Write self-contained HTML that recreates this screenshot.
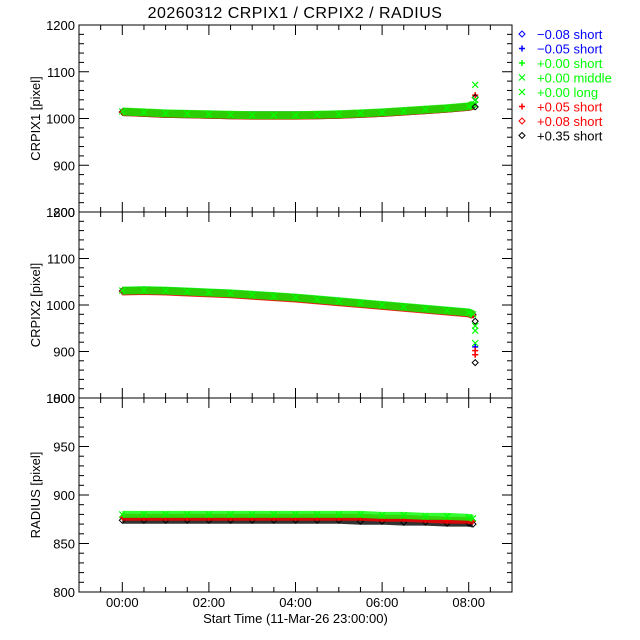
<!DOCTYPE html>
<html><head><meta charset="utf-8"><style>
body{margin:0;background:#fff;}
svg{display:block;font-family:"Liberation Sans",sans-serif;}
</style></head><body>
<svg id="c" width="640" height="640" xmlns="http://www.w3.org/2000/svg">
<text x="295" y="18" font-size="16" text-anchor="middle" letter-spacing="0.5">20260312 CRPIX1 / CRPIX2 / RADIUS</text>
<g id="plots"></g>
<g id="legend"></g>
</svg>
<script>
const times=[0,0.5,1,1.5,2,2.5,3,3.5,4,4.5,5,5.5,6,6.5,7,7.5,8,8.1];
const xTicks=[0,2,4,6,8];
const xTickLabels=["00:00","02:00","04:00","06:00","08:00"];
const p1Green=[1015,1013,1011,1010,1009,1008,1007,1007,1007,1008,1009,1011,1013,1016,1019,1022,1026,1030];
const p1Red=[1014,1012,1010,1009,1008,1007,1006,1006,1006,1007,1008,1010,1012,1015,1018,1021,1025,1028];
const p1Black=[1014,1012,1010,1009,1008,1007,1007,1007,1007,1007,1008,1010,1012,1015,1018,1021,1025,1027];
const p1EndVals=[1072,1050,1045,1040,1030,1025];
const p1EndColors=["#0f0","#f00","#000","#0f0","#0f0","#000"];
const p2Green=[1031,1032,1031,1029,1027,1025,1022,1019,1016,1012,1008,1004,1000,996,992,988,984,980];
const p2Red=[1029,1030,1029,1027,1025,1023,1020,1017,1014,1010,1006,1002,998,994,990,986,982,978];
const p2Black=[1030,1031,1030,1028,1026,1024,1021,1018,1015,1011,1007,1003,999,995,991,987,983,979];
const p2EndVals=[965,955,945,918,910,902,893,876];
const p2EndColors=["#000","#0f0","#0f0","#0f0","#00f","#f00","#f00","#000"];
const p3Green=[880,880,880,880,880,880,880,880,880,880,880,880,879,879,878,878,877,876];
const p3Red=[877,877,877,877,877,877,877,877,877,877,877,877,876,876,875,874,874,873];
const p3Black=[874,874,874,874,874,874,874,874,874,874,874,873,873,872,872,871,871,870];
const panels=[
 {top:25,bot:212,min:800,max:1200,ticks:[800,900,1000,1100,1200],title:"CRPIX1 [pixel]",g:p1Green,r:p1Red,k:p1Black,ev:p1EndVals,ec:p1EndColors,w:8},
 {top:212,bot:398,min:800,max:1200,ticks:[800,900,1000,1100,1200],title:"CRPIX2 [pixel]",g:p2Green,r:p2Red,k:p2Black,ev:p2EndVals,ec:p2EndColors,w:8},
 {top:398,bot:592,min:800,max:1000,ticks:[800,850,900,950,1000],title:"RADIUS [pixel]",g:p3Green,r:p3Red,k:p3Black,ev:[],ec:[],w:7}
];
const legendText=["\u22120.08 short","\u22120.05 short","+0.00 short","+0.00 middle","+0.00 long","+0.05 short","+0.08 short","+0.35 short"];
const legendColors=["#00f","#00f","#0f0","#0f0","#0f0","#f00","#f00","#000"];
const legendSym=["d","+","+","x","x","+","d","d"];
const NS="http://www.w3.org/2000/svg";
const X0=79,X1=512,TMIN=-1,TMAX=9;
const xs=t=>X0+(t-TMIN)/(TMAX-TMIN)*(X1-X0);
function mk(tag,at,parent){const e=document.createElementNS(NS,tag);for(const k in at)e.setAttribute(k,at[k]);parent.appendChild(e);return e;}
function sym(type,x,y,col,p,s){s=s||3;
 if(type==="d")return mk("path",{d:`M${x} ${y-s}L${x+s} ${y}L${x} ${y+s}L${x-s} ${y}Z`,fill:"none",stroke:col,"stroke-width":1},p);
 if(type==="+")return mk("path",{d:`M${x-s} ${y}H${x+s}M${x} ${y-s}V${y+s}`,stroke:col,"stroke-width":1.5},p);
 return mk("path",{d:`M${x-s} ${y-s}L${x+s} ${y+s}M${x+s} ${y-s}L${x-s} ${y+s}`,stroke:col,"stroke-width":1.2},p);}
const root=document.getElementById('plots');
panels.forEach((P,i)=>{
 const g=mk("g",{},root);
 
 
 const ys=v=>P.bot-(v-P.min)/(P.max-P.min)*(P.bot-P.top);
 const fr=mk("rect",{x:X0,y:P.top,width:X1-X0,height:P.bot-P.top,fill:"none",stroke:"#000","stroke-width":1},g);
 
 
 const step=(P.ticks[1]-P.ticks[0])/5;
 for(let v=P.min;v<=P.max+0.01;v+=step){const y=ys(v);const maj=Math.abs((v-P.min)%(P.ticks[1]-P.ticks[0]))<0.01;const L=maj?10:5;
  mk("line",{x1:X0,x2:X0+L,y1:y,y2:y,stroke:"#000"},g);mk("line",{x1:X1,x2:X1-L,y1:y,y2:y,stroke:"#000"},g);}
 P.ticks.forEach(v=>{const t=mk("text",{x:X0-4,y:ys(v)+5,"font-size":13,"text-anchor":"end"},g);t.textContent=v;
  
  });
 for(let t=TMIN;t<=TMAX+0.001;t+=0.5){const x=xs(t);const maj=Math.abs(t%2)<0.01;const L=maj?10:5;
  mk("line",{x1:x,x2:x,y1:P.bot,y2:P.bot-L,stroke:"#000"},g);mk("line",{x1:x,x2:x,y1:P.top,y2:P.top+L,stroke:"#000"},g);}
 const yt=mk("text",{x:0,y:0,"font-size":13,"text-anchor":"middle",transform:`translate(40,${(P.top+P.bot)/2}) rotate(-90)`},g);
 yt.textContent=P.title;
 
 
 [[P.k,"#000","d"],[P.r,"#f00","+"],[P.g,"#0f0","x"]].forEach(([arr,col,s])=>{
  const pl=mk("polyline",{points:arr.map((v,j)=>xs(times[j])+","+ys(v)).join(" "),fill:"none",stroke:col,"stroke-width":P.w,"stroke-opacity":0.8},g);
  
  
  arr.forEach((v,j)=>{const m=sym(s,xs(times[j]),ys(v),col,g);
   
   });
 });
 P.ev.forEach((v,j)=>{const m=sym(P.ec[j]==="#0f0"?"x":(P.ec[j]==="#000"?"d":"+"),xs(8.15),ys(v),P.ec[j],g);
  
  });
 if(i===2){xTicks.forEach((t,j)=>{const tx=mk("text",{x:xs(t),y:P.bot+15,"font-size":13,"text-anchor":"middle"},g);tx.textContent=xTickLabels[j];
  
  });
  const xt=mk("text",{x:xs(4),y:P.bot+31,"font-size":13,"text-anchor":"middle"},g);xt.textContent="Start Time (11-Mar-26 23:00:00)";
  
  }
});
const lg=document.getElementById('legend');
legendText.forEach((s,i)=>{const y=34+i*14.5;
 const m=sym(legendSym[i],522,y,legendColors[i],lg);
 
 
 const t=mk("text",{x:537,y:y+5,"font-size":13,fill:legendColors[i]},lg);t.textContent=s;
 
 });
</script>
</body></html>
